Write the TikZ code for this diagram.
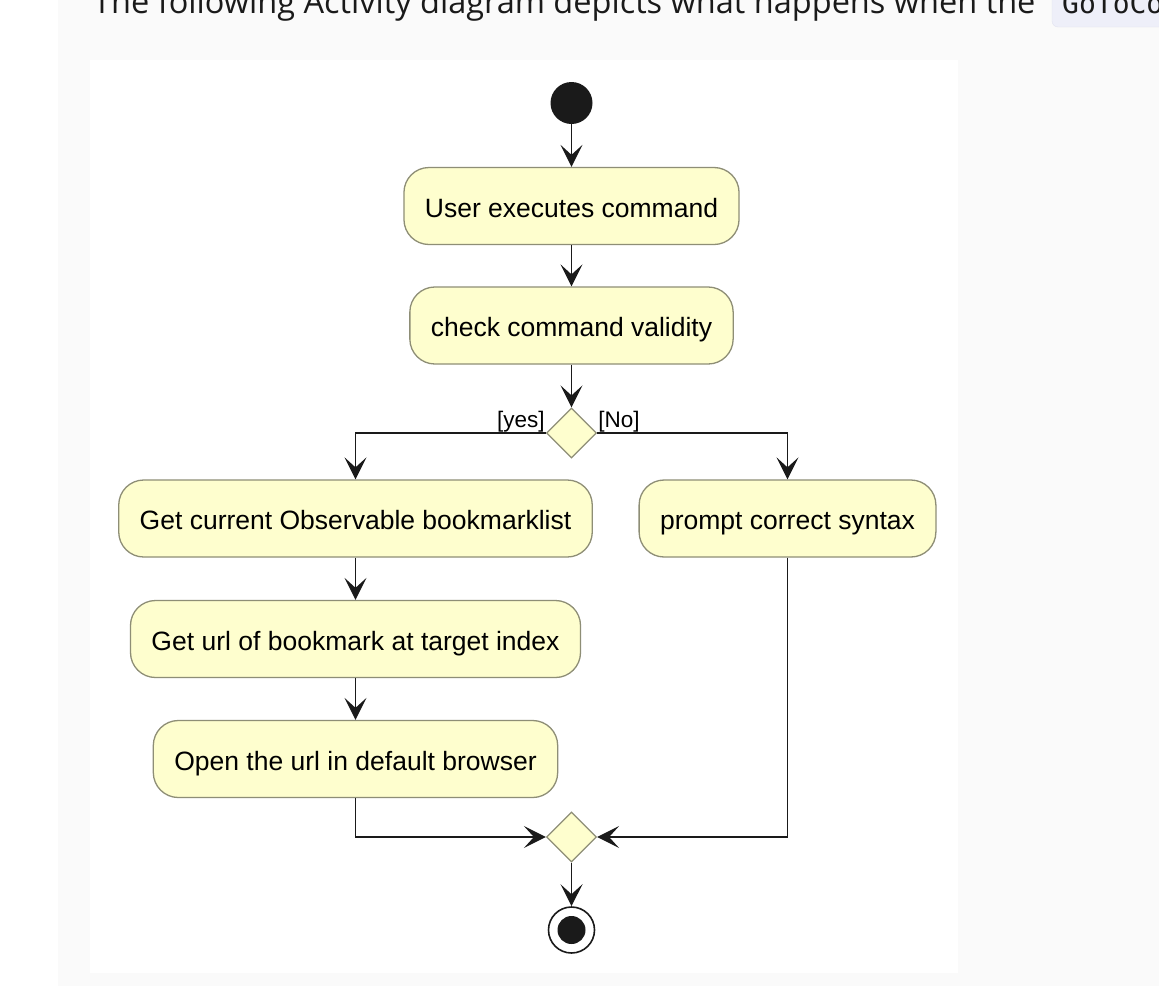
\documentclass[tikz,border=0pt]{standalone}
\usepackage{fontspec}
\setmainfont{Liberation Sans}
\newfontfamily\introfont{Open Sans}
\newfontfamily\codefont{DejaVu Sans Mono}
\usetikzlibrary{arrows.meta,shapes.geometric}

\definecolor{actfill}{HTML}{FEFECE}
\definecolor{actdraw}{HTML}{8E8E76}
\definecolor{pagegrey}{HTML}{FAFAFA}
\definecolor{chipfill}{HTML}{EEEFF9}
\definecolor{chipdraw}{HTML}{E2E3F0}
\definecolor{ink}{HTML}{1A1A1A}

\begin{document}
\begin{tikzpicture}[x=1pt,y=-1pt,
	action/.style={draw=actdraw,fill=actfill,line width=1.3pt,rounded corners=25pt,
	               minimum height=77pt,inner xsep=21pt,text height=23pt,text depth=1pt,
	               font=\fontsize{26.5}{30}\selectfont},
	branch/.style={diamond,draw=actdraw,fill=actfill,line width=1.2pt,
	               minimum width=50pt,minimum height=50pt,inner sep=0pt},
	guard/.style={font=\fontsize{22.5}{24}\selectfont,inner sep=1pt},
	flow/.style={-{Stealth[length=22pt,width=22pt,inset=10pt]},line width=1.6pt,draw=ink}
	]
	
	\def\pagew{1159}
	\def\pageh{986}
	
	% The page and the white panel
	\fill[white] (0,0) rectangle (\pagew,\pageh);
	\fill[pagegrey] (58,0) rectangle (\pagew,\pageh);
	\fill[white] (90,60) rectangle (958,973);
	\useasboundingbox (0,0) rectangle (\pagew,\pageh);
	
	% The sentence above the diagram
	\node[anchor=base west,inner sep=0pt,text=ink,font=\introfont\fontsize{32.5}{36}\selectfont]
	      (intro) at (93,13)
	      {The following Activity diagram depicts what happens when the};
	\draw[fill=chipfill,draw=chipdraw,rounded corners=6pt] (1052,-20) rectangle (1200,27);
	\node[anchor=base west,inner sep=0pt,text=ink,font=\codefont\fontsize{28}{32}\selectfont]
	      (code) at (1062,13)
	      {GoToCo};
	
	% Start and actions
	\node[circle,fill=ink,minimum size=42pt,inner sep=0pt] (start) at (571.5,103) {};
	\node[action] (user)  at (571.5,206) {User executes command};
	\node[action] (check) at (571.5,325.5) {check command validity};
	\node[branch] (split) at (571.5,433) {};
	\node[guard,anchor=south east] (yes) at (split.west) {[yes]};
	\node[guard,anchor=south west] (no)  at (split.east) {[No]};
	
	\node[action] (getlist) at (355.5,518.5) {Get current Observable bookmarklist};
	\node[action] (prompt)  at (787.5,518.5) {prompt correct syntax};
	\node[action] (geturl)  at (355.5,639)   {Get url of bookmark at target index};
	\node[action] (openurl) at (355.5,759)   {Open the url in default browser};
	
	% Merge and end
	\node[branch] (merge) at (571.5,837) {};
	\node[circle,draw=ink,fill=white,line width=1.6pt,minimum size=46pt,inner sep=0pt]
	      (stop) at (571.5,930) {};
	\node[circle,fill=ink,minimum size=28pt,inner sep=0pt] (stopdot) at (stop) {};
	
	% The flows
	\draw[flow] (start) -- (user);
	\draw[flow] (user) -- (check);
	\draw[flow] (check) -- (split);
	\draw[flow] (split.west) -| (getlist.north);
	\draw[flow] (split.east) -| (prompt.north);
	\draw[flow] (getlist) -- (geturl);
	\draw[flow] (geturl) -- (openurl);
	\draw[flow] (openurl.south) |- (merge.west);
	\draw[flow] (prompt.south) |- (merge.east);
	\draw[flow] (merge) -- (stop);
	
\end{tikzpicture}
\end{document}
